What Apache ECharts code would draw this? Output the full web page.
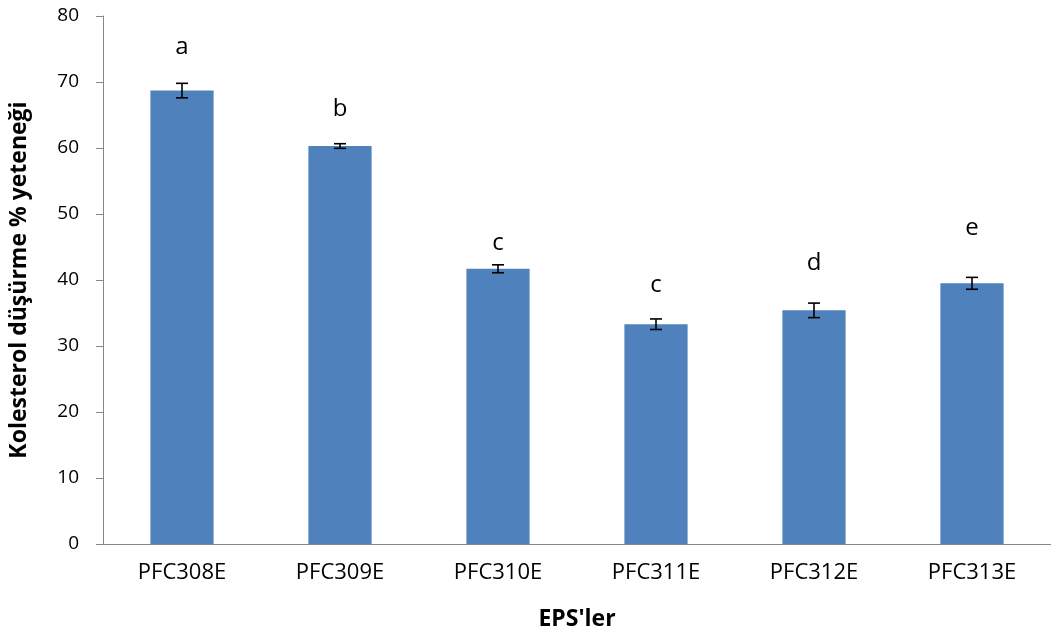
<!DOCTYPE html>
<html>
<head>
<meta charset="utf-8">
<script src="https://cdn.jsdelivr.net/npm/echarts@6/dist/echarts.min.js"></script>
<style>
  html, body { margin: 0; padding: 0; background: #fff; }
  #chart { width: 1051px; height: 636px; }
</style>
</head>
<body>
<div id="chart"></div>
<script>
// Cholesterol-lowering ability of each EPS (mean ± error)
const categories = ['PFC308E', 'PFC309E', 'PFC310E', 'PFC311E', 'PFC312E', 'PFC313E'];
const means = [68.7, 60.3, 41.7, 33.3, 35.4, 39.5];
const errors = [1.1, 0.35, 0.6, 0.8, 1.1, 0.9];
const groupLetters = ['a', 'b', 'c', 'c', 'd', 'e'];
const yTicks = [0, 10, 20, 30, 40, 50, 60, 70, 80];

// pixel gap between the top of each error bar and its significance letter
const letterGap = [36, 35, 22, 34, 40, 49];

const FONT = '"Open Sans", "Noto Sans", sans-serif';
const chart = echarts.init(document.getElementById('chart'));

chart.setOption({
  animation: false,
  grid: { left: 100, right: 0, top: 16, bottom: 89, containLabel: false },
  xAxis: {
    type: 'category',
    data: categories,
    name: "EPS'ler",
    nameLocation: 'middle',
    nameGap: 64,
    nameTextStyle: { fontFamily: FONT, fontSize: 23, fontWeight: 'bold', color: '#000' },
    axisLine: { lineStyle: { color: '#868686', width: 1 } },
    axisTick: { show: false },
    axisLabel: { fontFamily: FONT, fontSize: 22, color: '#000', margin: 18 }
  },
  yAxis: {
    type: 'value',
    min: yTicks[0],
    max: yTicks[yTicks.length - 1],
    interval: 10,
    name: 'Kolesterol düşürme % yeteneği',
    nameLocation: 'middle',
    nameGap: 72,
    nameTextStyle: { fontFamily: FONT, fontSize: 23, fontWeight: 'bold', color: '#000' },
    axisLine: { show: true, lineStyle: { color: '#868686', width: 1 } },
    axisTick: { show: true, inside: false, length: 7, lineStyle: { color: '#868686' } },
    splitLine: { show: false },
    axisLabel: { fontFamily: FONT, fontSize: 19, color: '#000', margin: 24 }
  },
  series: [
    {
      type: 'bar',
      data: means,
      barWidth: '40%',
      itemStyle: { color: '#4f81bd' },
      z: 2
    },
    {
      // error bars: vertical stem with caps
      type: 'custom',
      z: 5,
      data: means.map((m, i) => [i, m - errors[i], m + errors[i]]),
      renderItem: function (params, api) {
        const x = api.value(0);
        const lo = api.coord([x, api.value(1)]);
        const hi = api.coord([x, api.value(2)]);
        const half = 6;
        const style = { stroke: '#000', lineWidth: 1.6 };
        return {
          type: 'group',
          children: [
            { type: 'line', shape: { x1: lo[0], y1: lo[1], x2: hi[0], y2: hi[1] }, style: style },
            { type: 'line', shape: { x1: lo[0] - half, y1: lo[1], x2: lo[0] + half, y2: lo[1] }, style: style },
            { type: 'line', shape: { x1: hi[0] - half, y1: hi[1], x2: hi[0] + half, y2: hi[1] }, style: style }
          ]
        };
      }
    },
    {
      // significance group letters above each bar
      type: 'custom',
      z: 6,
      data: means.map((m, i) => [i, m + errors[i]]),
      renderItem: function (params, api) {
        const i = params.dataIndex;
        const p = api.coord([api.value(0), api.value(1)]);
        return {
          type: 'text',
          style: {
            x: p[0],
            y: p[1] - letterGap[i],
            text: groupLetters[i],
            fontFamily: FONT,
            fontSize: 24,
            fill: '#000',
            align: 'center',
            verticalAlign: 'middle'
          }
        };
      }
    }
  ]
});
</script>
</body>
</html>
